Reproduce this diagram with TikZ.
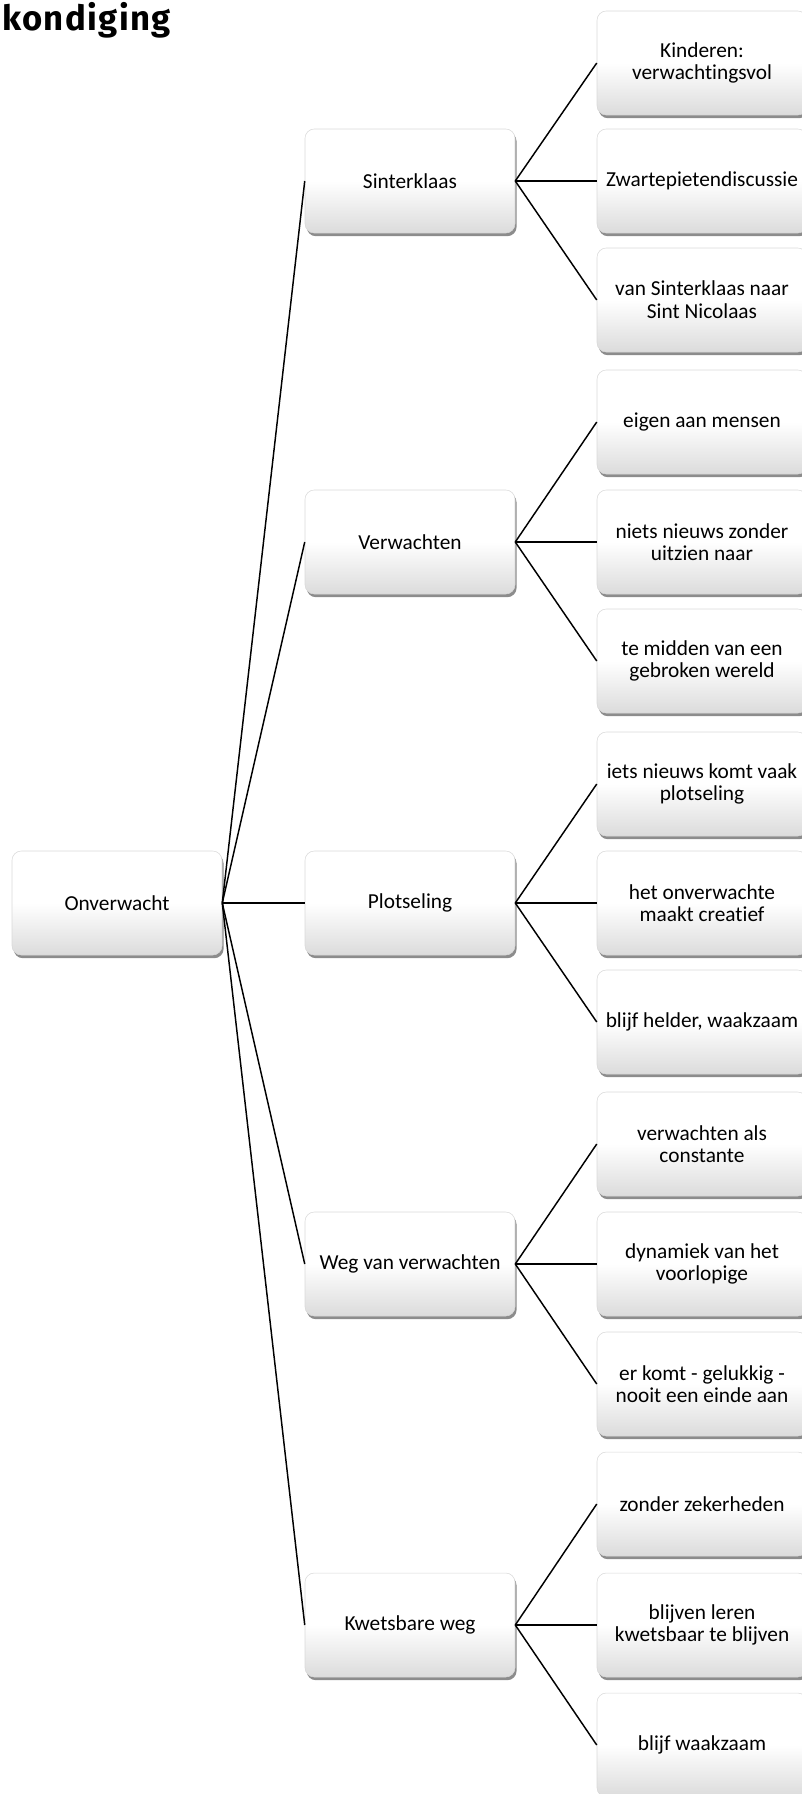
\documentclass[tikz,border=0pt]{standalone}
\usepackage{fontspec}
\setmainfont{Carlito}[Ligatures=NoCommon]
\newfontfamily\titelfont[LetterSpace=4]{Fira Sans}
\usetikzlibrary{shadows}

\tikzset{
  vak/.style={rectangle, rounded corners=7pt, minimum width=157.5pt, minimum height=78pt,
    inner sep=2pt, align=center, draw=black!15, line width=0.4pt,
    top color=white, bottom color=black!14, middle color=white,
    drop shadow={shadow xshift=1.2pt, shadow yshift=-2.4pt, opacity=0.6, fill=black!75},
    font=\fontsize{16}{17}\selectfont},
  lijn/.style={line width=1.1pt}
}

\begin{document}
\begin{tikzpicture}[x=0.75pt, y=-0.75pt]
  \useasboundingbox (0,0) rectangle (802,1794);
  \clip (0,0) rectangle (802,1794);

  \node[anchor=base west, inner sep=0pt, font=\titelfont\bfseries\fontsize{26}{30}\selectfont] (titel) at (2,31) {kondiging};

  % hoofdvak
  \node[vak] (onv) at (117,903) {Onverwacht};

  % tweede kolom
  \node[vak] (sint) at (410,181) {Sinterklaas};
  \node[vak] (verw) at (410,542) {Verwachten};
  \node[vak] (plot) at (410,903) {Plotseling};
  \node[vak] (weg) at (410,1264) {Weg van verwachten};
  \node[vak] (kwets) at (410,1625) {Kwetsbare weg};

  % derde kolom
  \node[vak] (sint1) at (702,63) {Kinderen:\\verwachtingsvol};
  \node[vak] (sint2) at (702,181) {Zwartepietendiscussie};
  \node[vak] (sint3) at (702,300) {van Sinterklaas naar\\Sint Nicolaas};
  \node[vak] (verw1) at (702,422) {eigen aan mensen};
  \node[vak] (verw2) at (702,542) {niets nieuws zonder\\uitzien naar};
  \node[vak] (verw3) at (702,661) {te midden van een\\gebroken wereld};
  \node[vak] (plot1) at (702,784) {iets nieuws komt vaak\\plotseling};
  \node[vak] (plot2) at (702,903) {het onverwachte\\maakt creatief};
  \node[vak] (plot3) at (702,1022) {blijf helder, waakzaam};
  \node[vak] (weg1) at (702,1144) {verwachten als\\constante};
  \node[vak] (weg2) at (702,1264) {dynamiek van het\\voorlopige};
  \node[vak] (weg3) at (702,1384) {er komt - gelukkig -\\nooit een einde aan};
  \node[vak] (kwets1) at (702,1504) {zonder zekerheden};
  \node[vak] (kwets2) at (702,1625) {blijven leren\\kwetsbaar te blijven};
  \node[vak] (kwets3) at (702,1745) {blijf waakzaam};

  % verbindingen
  \foreach \k in {sint,verw,plot,weg,kwets} {
    \draw[lijn] (onv.east) -- (\k.west);
    \foreach \n in {1,2,3}
      \draw[lijn] (\k.east) -- (\k\n.west);
  }
\end{tikzpicture}
\end{document}
